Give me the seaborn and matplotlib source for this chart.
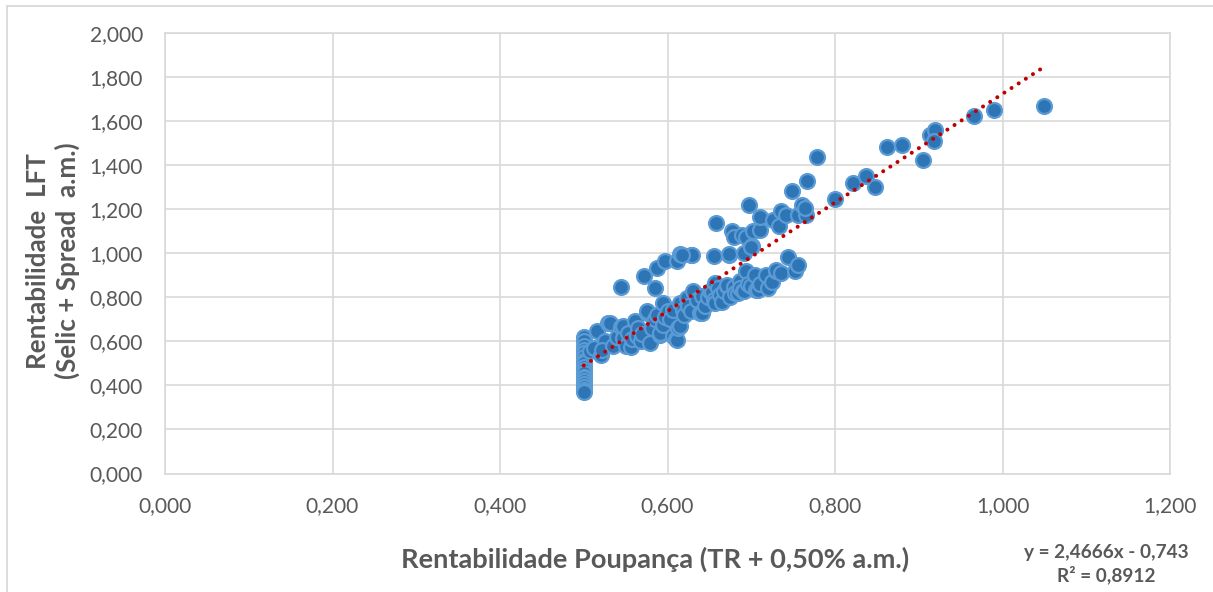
import matplotlib
matplotlib.use("Agg")
import matplotlib.pyplot as plt
import seaborn as sns
import pandas as pd
import numpy as np
from matplotlib.lines import Line2D
from matplotlib.ticker import FuncFormatter

# ---------------- data ----------------
poupanca = [
    # column at 0.50
    0.500, 0.500, 0.500, 0.500, 0.500, 0.500, 0.500, 0.500, 0.500, 0.500,
    0.500, 0.500, 0.500, 0.500, 0.500, 0.500, 0.500, 0.500,
    # lower band
    0.507, 0.512, 0.516, 0.520, 0.525, 0.522, 0.529, 0.531, 0.535, 0.540,
    0.545, 0.547, 0.547, 0.550, 0.553, 0.556, 0.558, 0.561, 0.563, 0.565,
    0.568, 0.570, 0.575, 0.576, 0.579, 0.582, 0.585, 0.588, 0.591, 0.591,
    0.595, 0.595, 0.597, 0.600, 0.603, 0.607, 0.607, 0.610, 0.611, 0.613,
    0.615, 0.615, 0.619, 0.620, 0.623, 0.625, 0.628, 0.631, 0.635, 0.639,
    0.641, 0.641, 0.645, 0.648, 0.651, 0.653, 0.655, 0.657, 0.657, 0.660,
    0.663, 0.665, 0.668, 0.671, 0.671, 0.675, 0.679, 0.680, 0.684, 0.686,
    0.687, 0.690, 0.691, 0.694, 0.696, 0.700, 0.704, 0.706, 0.708, 0.710,
    0.718, 0.720, 0.725, 0.730, 0.730, 0.735, 0.744, 0.752, 0.756,
    # upper band
    0.545, 0.572, 0.585, 0.588, 0.597, 0.611, 0.615, 0.628, 0.655, 0.658,
    0.673, 0.677, 0.679, 0.689, 0.691, 0.694, 0.697, 0.701, 0.702, 0.710,
    0.710, 0.726, 0.733, 0.736, 0.742, 0.749, 0.756, 0.760, 0.765, 0.766,
    0.764, 0.778, 0.700, 0.674, 0.629, 0.617,
    # upper right
    0.800, 0.822, 0.837, 0.848, 0.862, 0.880, 0.905, 0.913, 0.919, 0.918,
    0.966, 0.990, 1.049,
]
lft = [
    0.622, 0.600, 0.580, 0.562, 0.549, 0.530, 0.512, 0.503, 0.485, 0.472,
    0.455, 0.440, 0.432, 0.420, 0.405, 0.392, 0.380, 0.368,
    0.555, 0.570, 0.645, 0.540, 0.600, 0.560, 0.683, 0.683, 0.580, 0.620,
    0.665, 0.615, 0.668, 0.580, 0.640, 0.575, 0.610, 0.691, 0.623, 0.660,
    0.600, 0.635, 0.729, 0.736, 0.593, 0.660, 0.700, 0.720, 0.630, 0.638,
    0.676, 0.774, 0.710, 0.740, 0.700, 0.623, 0.744, 0.610, 0.608, 0.661,
    0.668, 0.774, 0.744, 0.720, 0.797, 0.759, 0.740, 0.827, 0.790, 0.729,
    0.804, 0.729, 0.760, 0.800, 0.827, 0.822, 0.790, 0.774, 0.865, 0.840,
    0.810, 0.780, 0.830, 0.850, 0.857, 0.800, 0.849, 0.820, 0.819, 0.872,
    0.840, 0.827, 0.827, 0.918, 0.860, 0.850, 0.902, 0.834, 0.834, 0.860,
    0.902, 0.842, 0.870, 0.918, 0.925, 0.910, 0.983, 0.918, 0.948,
    0.845, 0.898, 0.842, 0.933, 0.963, 0.963, 0.995, 0.993, 0.986, 1.137,
    0.993, 1.099, 1.076, 1.084, 1.001, 1.073, 1.217, 1.031, 1.103, 1.107,
    1.163, 1.149, 1.125, 1.193, 1.175, 1.283, 1.175, 1.217, 1.175, 1.327,
    1.205, 1.439, 1.028, 0.998, 0.993, 0.993,
    1.246, 1.318, 1.351, 1.300, 1.481, 1.492, 1.424, 1.537, 1.560, 1.510,
    1.621, 1.651, 1.670,
]
trend_slope = 2.4666
trend_intercept = -0.743

x_ticks = [0.0, 0.2, 0.4, 0.6, 0.8, 1.0, 1.2]
y_ticks = [0.0, 0.2, 0.4, 0.6, 0.8, 1.0, 1.2, 1.4, 1.6, 1.8, 2.0]

x_label = "Rentabilidade Poupança (TR + 0,50% a.m.)"
y_label_1 = "Rentabilidade  LFT"
y_label_2 = "(Selic + Spread  a.m.)"
eq_text = "y = 2,4666x - 0,743\nR² = 0,8912"

# ---------------- style ----------------
sns.set_theme(style="white")
plt.rcParams["font.family"] = ["Lato", "DejaVu Sans"]
TXT = "#595959"
GRID = "#D9D9D9"

W, H = 1213, 592
fig = plt.figure(figsize=(W / 100, H / 100), dpi=100)
renderer = fig.canvas.get_renderer()


def fit_size(text, target_px, weight="normal", base=14.0):
    t = fig.text(0, 0, text, fontsize=base, fontweight=weight)
    w = t.get_window_extent(renderer).width
    t.remove()
    return base * target_px / w


tick_fs = fit_size("0,000", 54)
xlab_fs = fit_size(x_label, 514, "bold")
ylab_fs = fit_size(y_label_1, 217, "bold")
eq_fs = fit_size("y = 2,4666x - 0,743", 166, "bold")

ax = fig.add_axes([165 / W, 1 - 473.5 / H, (1170 - 165) / W, (473.5 - 33) / H])

df = pd.DataFrame({"x": poupanca, "y": lft})
tx = np.array([min(poupanca), max(poupanca)])
tdf = pd.DataFrame({"x": tx, "y": trend_slope * tx + trend_intercept})

sns.scatterplot(data=df, x="x", y="y", ax=ax, s=115, color="#2E75B6",
                edgecolor="#5B9BD5", linewidth=1.6, zorder=3, legend=False)
sns.lineplot(data=tdf, x="x", y="y", ax=ax, color="#C00000", lw=2.9,
             zorder=4, legend=False)
ln = ax.lines[-1]
ln.set_linestyle((0, (0.01, 2.1)))
ln.set_dash_capstyle("round")

ax.set_xlim(0, 1.2)
ax.set_ylim(0, 2.0)
ax.set_xticks(x_ticks)
ax.set_yticks(y_ticks)
fmt = FuncFormatter(lambda v, p: f"{v:.3f}".replace(".", ","))
ax.xaxis.set_major_formatter(fmt)
ax.yaxis.set_major_formatter(fmt)
ax.tick_params(axis="both", length=0, labelsize=tick_fs, labelcolor=TXT)
ax.tick_params(axis="x", pad=16)
ax.tick_params(axis="y", pad=16)
ax.grid(True, color=GRID, lw=1.2)
ax.set_axisbelow(True)
for s in ax.spines.values():
    s.set_visible(True)
    s.set_color(GRID)
    s.set_linewidth(1.2)
ax.set_xlabel("")
ax.set_ylabel("")

fig.text(655 / W, 1 - 559 / H, x_label, ha="center", va="center",
         fontsize=xlab_fs, fontweight="bold", color=TXT)
fig.text(38 / W, 1 - 261 / H, y_label_1, ha="center", va="center",
         rotation=90, fontsize=ylab_fs, fontweight="bold", color=TXT)
fig.text(67 / W, 1 - 261 / H, y_label_2, ha="center", va="center",
         rotation=90, fontsize=ylab_fs, fontweight="bold", color=TXT)
fig.text(1106 / W, 1 - 564 / H, eq_text, ha="center", va="center",
         multialignment="center", fontsize=eq_fs, fontweight="bold",
         color=TXT, linespacing=1.3)

# chart-area border (left and top visible)
fig.add_artist(Line2D([7 / W, 7 / W], [0, 1 - 6 / H], transform=fig.transFigure,
                      color=GRID, lw=1.3))
fig.add_artist(Line2D([7 / W, 1], [1 - 6 / H, 1 - 6 / H], transform=fig.transFigure,
                      color=GRID, lw=1.3))

fig.savefig("out.png", dpi=100, facecolor="white")
